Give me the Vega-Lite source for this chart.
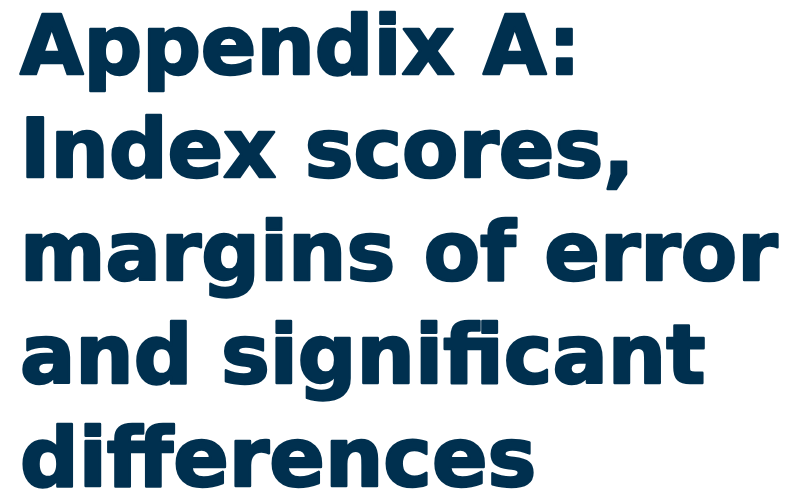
{
  "$schema": "https://vega.github.io/schema/vega-lite/v6.json",
  "width": 790,
  "height": 489,
  "autosize": {"type": "none"},
  "padding": 0,
  "background": "#ffffff",
  "view": {"stroke": null},
  "data": {
    "values": [
      {"line": 1, "text": "Appendix A:"},
      {"line": 2, "text": "Index scores,"},
      {"line": 3, "text": "margins of error"},
      {"line": 4, "text": "and significant"},
      {"line": 5, "text": "differences"}
    ]
  },
  "mark": {
    "type": "text",
    "align": "left",
    "baseline": "alphabetic",
    "font": "DejaVu Sans",
    "fontWeight": "bold",
    "fontSize": 82,
    "color": "#00304F",
    "stroke": "#00304F",
    "strokeWidth": 2.5,
    "strokeJoin": "round"
  },
  "encoding": {
    "x": {"value": 20},
    "y": {"field": "line", "type": "quantitative", "scale": {"domain": [1, 5], "range": [74, 486]}, "axis": null},
    "text": {"field": "text", "type": "nominal"}
  }
}
